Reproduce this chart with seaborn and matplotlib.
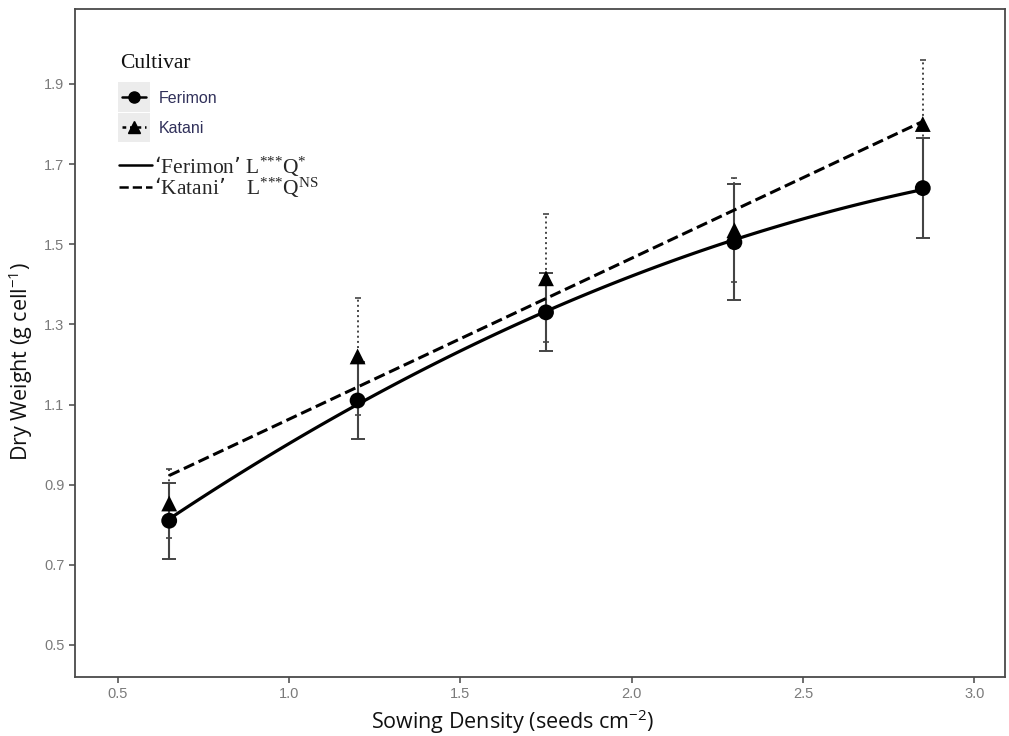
import numpy as np
import pandas as pd
import matplotlib
matplotlib.use("Agg")
import matplotlib.pyplot as plt
import seaborn as sns
from matplotlib.lines import Line2D
from matplotlib.patches import Rectangle
from matplotlib.legend_handler import HandlerLine2D

# Sowing density treatments (seeds cm^-2)
density = [0.65, 1.2, 1.75, 2.3, 2.85]

# Mean dry weight (g cell^-1) and standard errors per cultivar
ferimon_mean = [0.81, 1.11, 1.33, 1.505, 1.64]
ferimon_se = [0.095, 0.097, 0.097, 0.145, 0.125]
katani_mean = [0.853, 1.22, 1.415, 1.535, 1.80]
katani_se = [0.085, 0.145, 0.16, 0.13, 0.16]

cultivars = ["Ferimon", "Katani"]
y_ticks = [0.5, 0.7, 0.9, 1.1, 1.3, 1.5, 1.7, 1.9]
x_ticks = [0.5, 1.0, 1.5, 2.0, 2.5, 3.0]

df = pd.DataFrame({
    "density": density * 2,
    "weight": ferimon_mean + katani_mean,
    "se": ferimon_se + katani_se,
    "cultivar": ["Ferimon"] * len(density) + ["Katani"] * len(density),
})

sns.set_style("ticks")
plt.rcParams["font.family"] = ["Liberation Sans", "DejaVu Sans"]

fig = plt.figure(figsize=(10.09, 7.36), dpi=100)
ax = fig.add_axes([75 / 1009, 1 - 677 / 736, 930 / 1009, 668 / 736])

# Error bars: solid for Ferimon, dotted for Katani
fer = df[df.cultivar == "Ferimon"]
kat = df[df.cultivar == "Katani"]
eb1 = ax.errorbar(fer.density, fer.weight, yerr=fer.se, fmt="none",
                  ecolor="#444444", elinewidth=1.5, capsize=5, capthick=1.4, zorder=2)
eb2 = ax.errorbar(kat.density, kat.weight, yerr=kat.se, fmt="none",
                  ecolor="#444444", elinewidth=1.4, capsize=2.5, capthick=1.2, zorder=2)
eb2[2][0].set_linestyle(":")

# Fitted trends: quadratic for Ferimon, linear for Katani
sns.regplot(data=fer, x="density", y="weight", order=2, ci=None, scatter=False,
            ax=ax, line_kws={"color": "black", "lw": 2.3, "ls": "-", "zorder": 3})
sns.regplot(data=kat, x="density", y="weight", order=1, ci=None, scatter=False,
            ax=ax, line_kws={"color": "black", "lw": 2.2, "ls": "--", "zorder": 3})

# Cultivar means
sns.scatterplot(data=df, x="density", y="weight", style="cultivar",
                markers={"Ferimon": "o", "Katani": "^"}, color="black",
                s=130, edgecolor="black", linewidth=0, legend=False, ax=ax, zorder=4)

ax.set_xlim(0.375, 3.09)
ax.set_ylim(0.42, 2.087)
ax.set_xticks(x_ticks)
ax.set_xticklabels([f"{v:.1f}" for v in x_ticks])
ax.set_yticks(y_ticks)
ax.set_yticklabels([f"{v:.1f}" for v in y_ticks])
ax.tick_params(axis="both", colors="#555555", labelcolor="#7a7a7a",
               labelsize=10.5, length=4, width=1.2)
for side in ["left", "bottom", "top", "right"]:
    ax.spines[side].set_visible(True)
    ax.spines[side].set_color("#4a4a4a")
    ax.spines[side].set_linewidth(1.3)

label_font = ["Open Sans", "DejaVu Sans"]
ax.set_xlabel(r"Sowing Density (seeds cm$^{\mathregular{-2}}$)", fontsize=15.5,
              family=label_font, color="#111111")
ax.set_ylabel(r"Dry Weight (g cell$^{\mathregular{-1}}$)", fontsize=15.5,
              family=label_font, color="#111111")
ax.xaxis.set_label_coords(0.471, -0.045)
ax.yaxis.set_label_coords(-0.043, 0.472)


class BoxedHandler(HandlerLine2D):
    """Legend key drawn on a light grey square."""

    def create_artists(self, legend, orig_handle, xdescent, ydescent,
                       width, height, fontsize, trans):
        artists = super().create_artists(legend, orig_handle, xdescent, ydescent,
                                         width, height, fontsize, trans)
        pad = 3
        rect = Rectangle((-xdescent - pad, -ydescent - pad * 2.2), width + 2 * pad,
                         height + 4.4 * pad, facecolor="#ececec", edgecolor="none",
                         transform=trans)
        return [rect] + list(artists)


# Legend title
ax.text(0.0484, 0.919, "Cultivar", transform=ax.transAxes, va="center", ha="left",
        family="Liberation Serif", fontsize=15.5, color="#111111")

handles = [
    Line2D([], [], color="black", marker="o", ls="-", lw=1.8, markersize=8),
    Line2D([], [], color="black", marker="^", ls="--", lw=1.8, markersize=9, dashes=(1.5, 1.5)),
]
leg1 = ax.legend(handles, cultivars, loc="upper left",
                 bbox_to_anchor=(0.035, 0.899), frameon=False,
                 handlelength=1.5, handletextpad=0.8, labelspacing=0.95,
                 prop={"family": "Liberation Sans", "size": 11.5},
                 handler_map={Line2D: BoxedHandler()})
for t in leg1.get_texts():
    t.set_color("#30305a")
ax.add_artist(leg1)

fit_handles = [
    Line2D([], [], color="black", ls="-", lw=1.8),
    Line2D([], [], color="black", ls="--", lw=1.8),
]
fit_labels = [
    r"‘Ferimon’ $\mathregular{L^{{*}{*}{*}}Q^{{*}}}$",
    r"‘Katani’    $\mathregular{L^{{*}{*}{*}}Q^{NS}}$",
]
ax.legend(fit_handles, fit_labels, loc="upper left", bbox_to_anchor=(0.026, 0.8125),
          frameon=False, handlelength=1.55, handletextpad=0.1, labelspacing=-0.1,
          prop={"family": "Liberation Serif", "size": 15.5})

fig.savefig("out.png", dpi=100, facecolor="white")
